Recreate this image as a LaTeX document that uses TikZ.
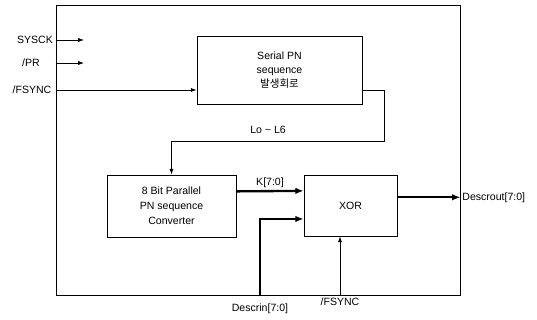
\documentclass[tikz,border=0pt]{standalone}
\usepackage{fontspec}
\setmainfont{Liberation Sans}
\newfontfamily\krfont{Noto Sans CJK KR}
\usetikzlibrary{arrows.meta}

\tikzset{
  blk/.style={draw, line width=0.6pt, inner sep=0pt, align=center},
  sig/.style={line width=0.6pt, -{Latex[length=5pt,width=3.5pt]}},
  bus/.style={line width=2pt, -{Latex[length=7pt,width=5.5pt]}},
  lbl/.style={inner sep=1pt}
}

\begin{document}
\begin{tikzpicture}[x=0.03cm,y=-0.03cm,font=\fontsize{9}{12}\selectfont]
\useasboundingbox (0,0) rectangle (537,320);

% outer frame
\node[draw, line width=0.6pt, minimum width=12.12cm, minimum height=8.7cm, inner sep=0pt] (chip) at (258,150) {};

% blocks
\node[blk, minimum width=4.95cm, minimum height=2.04cm] (serial) at (279.5,70)
  {Serial PN\\sequence\\{\krfont 발생회로}};
\node[blk, minimum width=3.87cm, minimum height=1.86cm, font=\fontsize{9}{13}\selectfont] (par) at (171.5,206)
  {8 Bit Parallel\\PN sequence\\Converter};
\node[blk, minimum width=2.79cm, minimum height=1.83cm] (xor) at (350.5,205.5) {XOR};

% input labels
\node[lbl] (sysck) at (35,40) {SYSCK};
\node[lbl] (pr) at (31,63) {/PR};
\node[lbl] (fs) at (32,90) {/FSYNC};
\coordinate (sysckend) at (84,40);
\coordinate (prend) at (84,63);

\draw[sig] (sysck -| chip.west) -- (sysckend);
\draw[sig] (pr -| chip.west) -- (prend);
\draw[sig] (fs -| chip.west) -- (fs -| serial.west);

% serial -> parallel
\coordinate (bend) at (384,141);
\draw[sig] (fs -| serial.east) -| (bend) -| (par.north);
\node[lbl] (lo) at (268,130) {Lo \textasciitilde{} L6};

% buses
\draw[bus] ([yshift=12.5pt]par.east) -- ([yshift=12.5pt]xor.west);
\node[lbl] (k) at (270,183) {K[7:0]};

\node[lbl] (din) at (260,309) {Descrin[7:0]};
\draw[bus] (din |- chip.south) |- ([yshift=-11.5pt]xor.west);

\node[lbl] (fsb) at (340,302) {/FSYNC};
\draw[sig] (fsb |- chip.south) -- (fsb |- xor.south);

\draw[bus] ([yshift=7pt]xor.east) -- ([yshift=7pt]xor.east -| chip.east);
\node[lbl, anchor=west] (dout) at (461,198) {Descrout[7:0]};
\end{tikzpicture}
\end{document}
